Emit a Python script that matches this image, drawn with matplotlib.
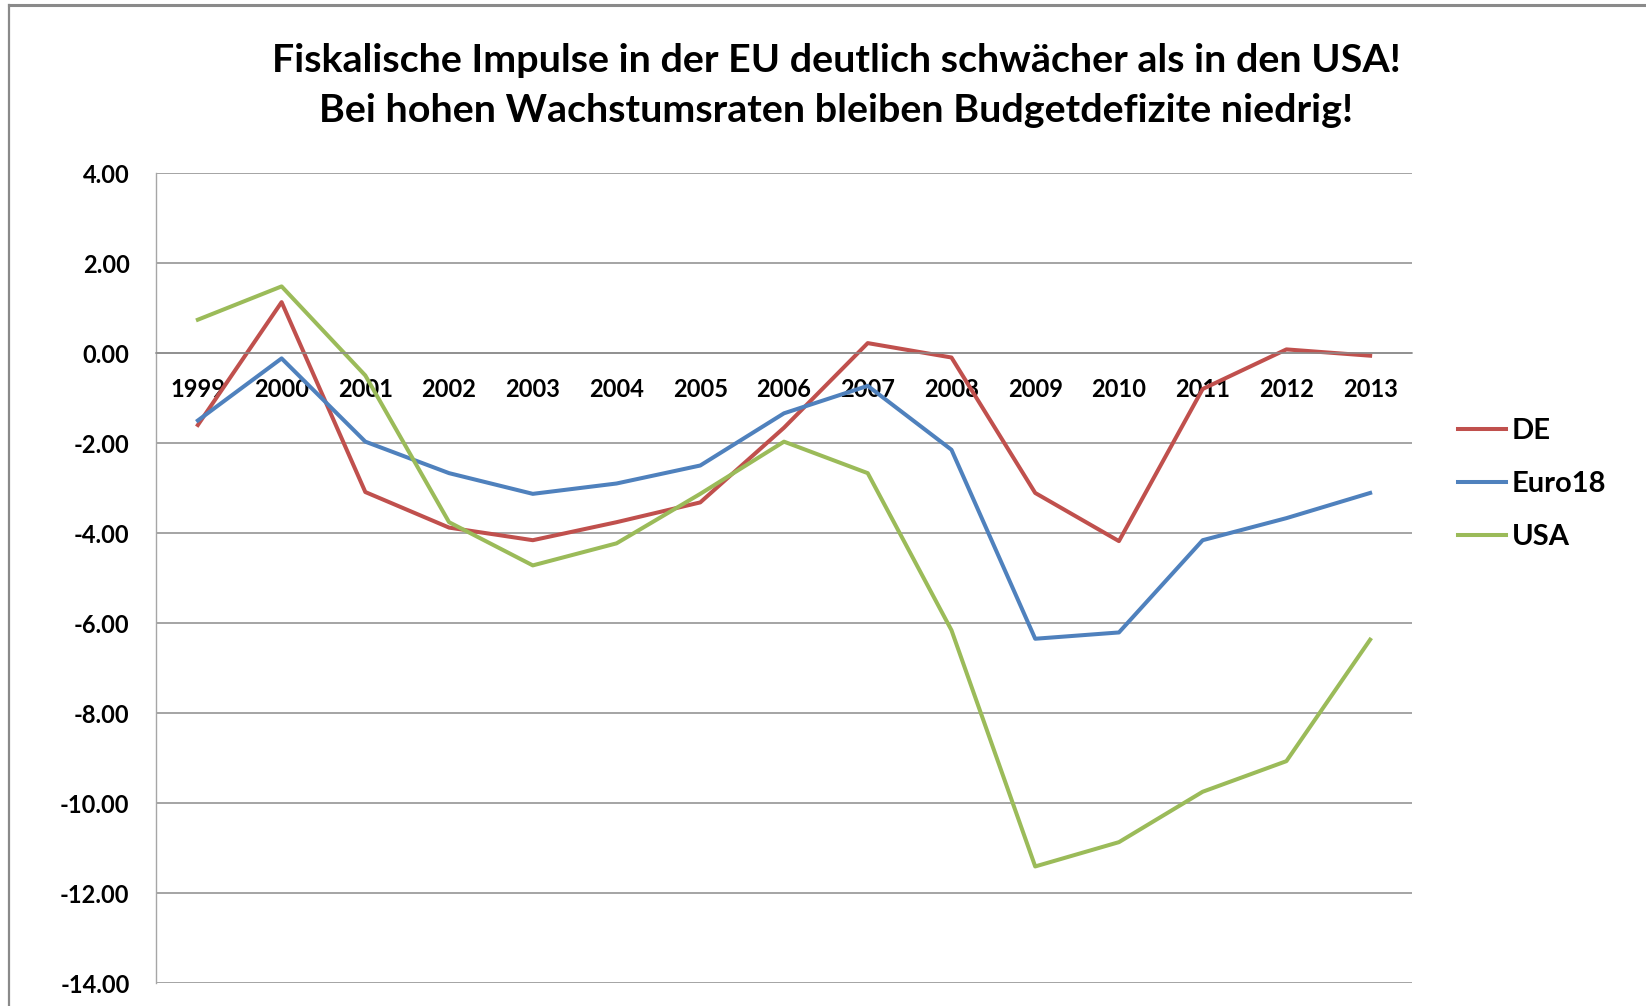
import matplotlib
matplotlib.use("Agg")
import matplotlib.pyplot as plt
from matplotlib.lines import Line2D

years = ["1999", "2000", "2001", "2002", "2003", "2004", "2005", "2006",
         "2007", "2008", "2009", "2010", "2011", "2012", "2013"]
de = [-1.60, 1.13, -3.09, -3.88, -4.16, -3.76, -3.32, -1.66,
      0.22, -0.10, -3.11, -4.18, -0.80, 0.08, -0.06]
euro18 = [-1.50, -0.12, -1.97, -2.67, -3.13, -2.90, -2.50, -1.34,
          -0.73, -2.15, -6.35, -6.21, -4.16, -3.67, -3.11]
usa = [0.74, 1.48, -0.50, -3.76, -4.72, -4.23, -3.13, -1.97,
       -2.67, -6.16, -11.41, -10.87, -9.75, -9.07, -6.37]
yticks = [4, 2, 0, -2, -4, -6, -8, -10, -12, -14]
title1 = "Fiskalische Impulse in der EU deutlich schwächer als in den USA!"
title2 = "Bei hohen Wachstumsraten bleiben Budgetdefizite niedrig!"

plt.rcParams['font.family'] = ['Lato', 'DejaVu Sans']

fig = plt.figure(figsize=(16.46, 10.06), dpi=100)
ax = fig.add_axes([156 / 1646, 23 / 1006, (1412 - 156) / 1646, (983 - 173) / 1006])

ax.spines['top'].set_visible(False)
ax.spines['right'].set_visible(False)
ax.spines['bottom'].set_position(('data', 0))
ax.spines['bottom'].set_color("#8C8C8C")
ax.spines['bottom'].set_linewidth(1.1)
ax.spines['left'].set_color("#A6A6A6")
ax.spines['left'].set_linewidth(1.0)

x = list(range(len(years)))
lw = 2.9
ax.plot(x, de, color="#C0504D", lw=lw, label="DE")
ax.plot(x, euro18, color="#4F81BD", lw=lw, label="Euro18")
ax.plot(x, usa, color="#9BBB59", lw=lw, label="USA")

ax.set_xlim(-0.5, len(years) - 0.5)
ax.set_ylim(-14, 4)
ax.set_yticks(yticks)
ax.set_yticklabels([f"{v:.2f}" for v in yticks], fontsize=17, fontweight="bold")
ax.set_xticks(x)
ax.set_xticklabels(years, fontsize=17, fontweight="bold")
ax.tick_params(axis="x", length=0, pad=18)
ax.tick_params(axis="y", length=0, pad=19)

ax.grid(axis="y", color="#8C8C8C", lw=1.1)
ax.set_axisbelow(True)

fig.text(0.508, 1 - 61 / 1006, title1, ha="center", va="center",
         fontsize=28.4, fontweight="bold")
fig.text(0.508, 1 - 110 / 1006, title2, ha="center", va="center",
         fontsize=28.4, fontweight="bold")

fig.legend(loc="center left", bbox_to_anchor=(1458 / 1646, 1 - 484 / 1006),
           frameon=False, prop={"weight": "bold", "size": 21},
           handlelength=1.65, handletextpad=0.2, labelspacing=0.93,
           borderpad=0, borderaxespad=0)

# chart-area border (top and left visible)
fig.add_artist(Line2D([8.5 / 1646, 1], [1 - 5 / 1006, 1 - 5 / 1006],
                      transform=fig.transFigure, color="#8A8A8A", lw=2.2))
fig.add_artist(Line2D([8.5 / 1646, 8.5 / 1646], [0, 1 - 5 / 1006],
                      transform=fig.transFigure, color="#8A8A8A", lw=1.6))

fig.savefig("out.png", dpi=100)
